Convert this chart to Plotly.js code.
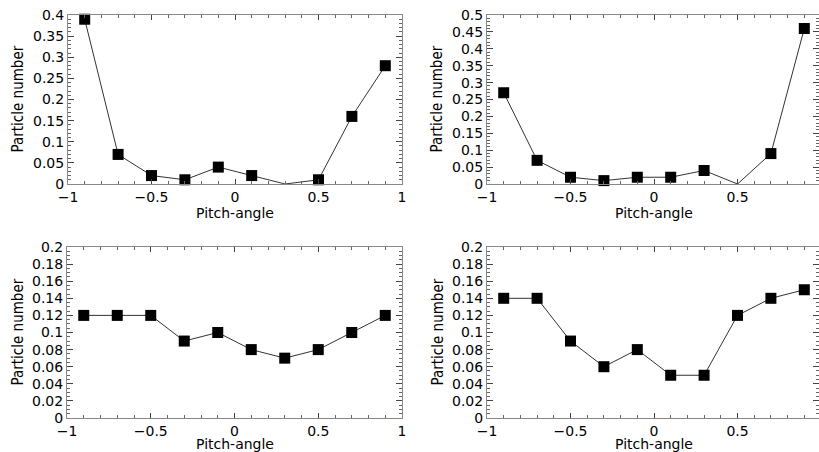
<!DOCTYPE html>
<html>
<head>
<meta charset="utf-8">
<script src="https://cdn.plot.ly/plotly-3.0.1.min.js"></script>
<style>html,body{margin:0;padding:0;background:#fff}#chart{width:819px;height:452px}</style>
</head>
<body>
<div id="chart"></div>
<script>
const pitchAngle = [-0.9, -0.7, -0.5, -0.3, -0.1, 0.1, 0.3, 0.5, 0.7, 0.9];
const panelTopLeft = [0.39, 0.07, 0.02, 0.01, 0.04, 0.02, 0.0, 0.01, 0.16, 0.28];
const panelTopRight = [0.27, 0.07, 0.02, 0.01, 0.02, 0.02, 0.04, 0.0, 0.09, 0.46];
const panelBottomLeft = [0.12, 0.12, 0.12, 0.09, 0.10, 0.08, 0.07, 0.08, 0.10, 0.12];
const panelBottomRight = [0.14, 0.14, 0.09, 0.06, 0.08, 0.05, 0.05, 0.12, 0.14, 0.15];
const xTitle = 'Pitch-angle';
const yTitle = 'Particle number';

const W = 819, H = 452;
function mk(y, xa, ya) {
  return {
    x: pitchAngle, y: y, xaxis: xa, yaxis: ya, type: 'scatter', mode: 'lines+markers',
    line: {color: '#333', width: 1},
    marker: {symbol: 'square', color: '#000', opacity: 1, line: {width: 0},
             size: y.map(v => v > 0 ? 11 : 0), sizemode: 'diameter'},
    cliponaxis: false, showlegend: false, hoverinfo: 'skip'
  };
}
const data = [
  mk(panelTopLeft, 'x', 'y'),
  mk(panelTopRight, 'x2', 'y2'),
  mk(panelBottomLeft, 'x3', 'y3'),
  mk(panelBottomRight, 'x4', 'y4')
];
const tickFont = {family: 'DejaVu Sans, Verdana, sans-serif', size: 14, color: '#000'};
function xax(d0, d1, anchor, rmax) {
  return {
    domain: [d0 / W, d1 / W], anchor: anchor, range: [-1, rmax],
    tickvals: [-1, -0.5, 0, 0.5, 1], ticktext: ['\u22121', '\u22120.5', '0', '0.5', '1'],
    ticks: 'inside', ticklen: 5, tickcolor: '#444', tickwidth: 1,
    minor: {tickvals: [-0.9,-0.8,-0.7,-0.6,-0.4,-0.3,-0.2,-0.1,0.1,0.2,0.3,0.4,0.6,0.7,0.8,0.9], ticks: 'inside', ticklen: 3, tickcolor: '#666'},
    showline: true, linecolor: '#888', linewidth: 1, mirror: 'allticks',
    showgrid: false, zeroline: false, tickfont: tickFont,
    automargin: false
  };
}
function yax(top, bottom, anchor, ymax, dtick, minorDtick) {
  return {
    domain: [1 - bottom / H, 1 - top / H], anchor: anchor, range: [0, ymax],
    dtick: dtick, tick0: 0,
    ticks: 'inside', ticklen: 6, tickcolor: '#444', tickwidth: 1,
    minor: {dtick: minorDtick, ticks: 'inside', ticklen: 3, tickcolor: '#666'},
    showline: true, linecolor: '#888', linewidth: 1, mirror: 'allticks',
    showgrid: false, zeroline: false, tickfont: tickFont,
    automargin: false
  };
}
const xTitleFont = {family: 'DejaVu Sans, Verdana, sans-serif', size: 14, color: '#000'};
const yTitleFont = {family: 'Liberation Sans Narrow, DejaVu Sans Condensed, sans-serif', size: 15, color: '#000'};
function xt(xref, ypx) {
  return {text: xTitle, xref: xref, yref: 'paper', x: 0, y: 1 - ypx / H,
          xanchor: 'center', yanchor: 'middle', showarrow: false, font: xTitleFont};
}
function yt(xpx, ypx) {
  return {text: yTitle, xref: 'paper', yref: 'paper', x: xpx / W, y: 1 - ypx / H, textangle: -90,
          xanchor: 'center', yanchor: 'middle', showarrow: false, font: yTitleFont};
}
const rightMax = (819 - 487) / 167 - 1;
const layout = {
  width: W, height: H,
  margin: {l: 0, r: 0, t: 0, b: 0},
  paper_bgcolor: '#fff', plot_bgcolor: '#fff',
  xaxis: xax(68, 402, 'y', 1),
  yaxis: yax(15, 184, 'x', 0.4, 0.05, 0.01),
  xaxis2: xax(487, 819, 'y2', rightMax),
  yaxis2: yax(15, 184, 'x2', 0.5, 0.05, 0.01),
  xaxis3: xax(67, 402, 'y3', 1),
  yaxis3: yax(247, 418, 'x3', 0.2, 0.02, 0.005),
  xaxis4: xax(487, 819, 'y4', rightMax),
  yaxis4: yax(247, 418, 'x4', 0.2, 0.02, 0.005),
  annotations: [
    xt('x', 213), xt('x2', 213), xt('x3', 444), xt('x4', 444),
    yt(18, 99.5), yt(437, 99.5), yt(17, 332.5), yt(437, 332.5)
  ]
};
Plotly.newPlot('chart', data, layout, {displayModeBar: false, staticPlot: true});
</script>
</body>
</html>
